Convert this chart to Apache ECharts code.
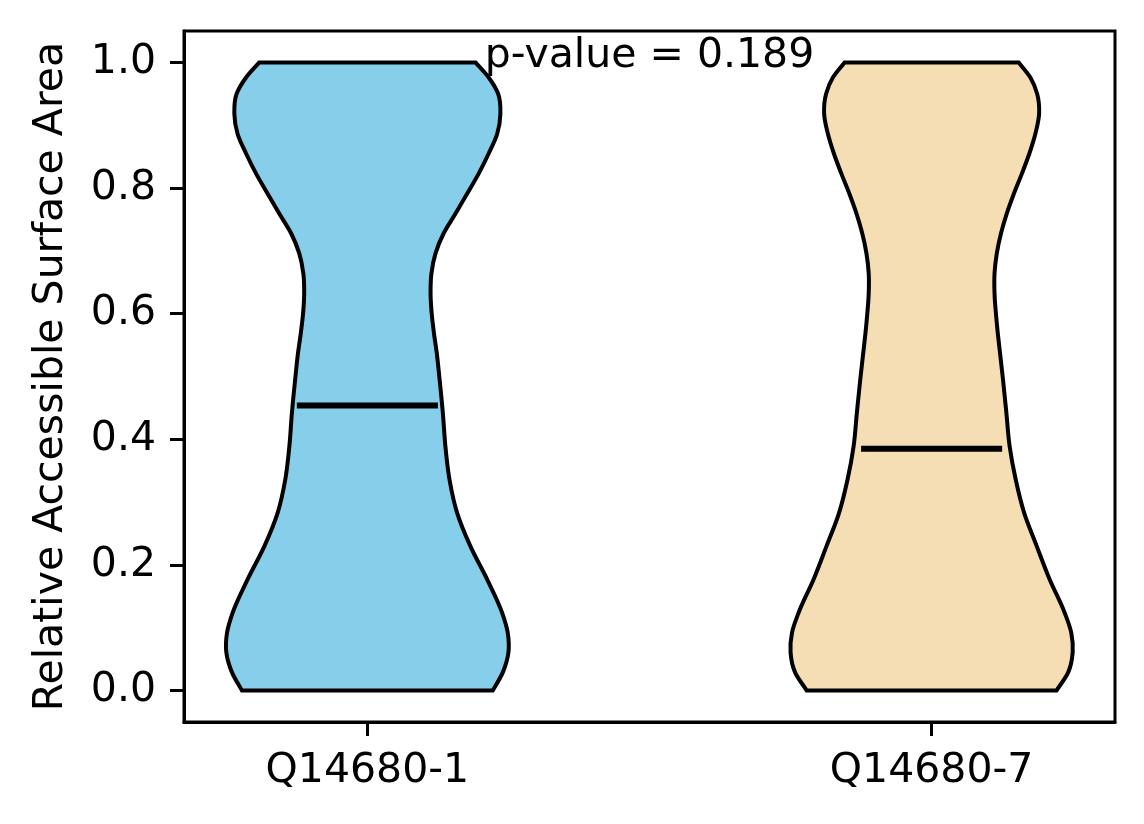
<!DOCTYPE html>
<html>
<head>
<meta charset="utf-8">
<script src="https://cdn.jsdelivr.net/npm/echarts@6/dist/echarts.min.js"></script>
<style>
html,body{margin:0;padding:0;background:#fff;}
#chart{width:1144px;height:824px;}
</style>
</head>
<body>
<div id="chart"></div>
<script>
// ---- data ----
const categories = ['Q14680-1', 'Q14680-7'];
const positions = [1, 2];
const medians = [0.454, 0.385];
const fillColors = ['#87CEEB', '#F5DEB3'];
// violin outline: y levels and relative half-widths (fraction of max half-width)
const yLevels = [0, 0.029, 0.061, 0.092, 0.124, 0.177, 0.230, 0.283, 0.336, 0.389, 0.442, 0.495, 0.537, 0.569, 0.600, 0.632, 0.664, 0.696, 0.728, 0.759, 0.791, 0.823, 0.855, 0.886, 0.918, 0.950, 0.976, 1.0];
const widthsA = [0.889, 0.960, 1.0, 0.995, 0.955, 0.849, 0.730, 0.636, 0.582, 0.553, 0.535, 0.512, 0.492, 0.472, 0.456, 0.448, 0.454, 0.483, 0.541, 0.624, 0.707, 0.789, 0.860, 0.920, 0.943, 0.927, 0.860, 0.766];
const widthsB = [0.885, 0.968, 1.0, 0.990, 0.943, 0.837, 0.745, 0.656, 0.596, 0.553, 0.530, 0.506, 0.485, 0.469, 0.456, 0.446, 0.446, 0.462, 0.492, 0.532, 0.583, 0.640, 0.693, 0.735, 0.762, 0.748, 0.700, 0.617];
const yTicks = [0, 0.2, 0.4, 0.6, 0.8, 1.0];
const pValueText = 'p-value = 0.189';
const pValuePos = [1.5, 1.0];

const violinWidths = [widthsA, widthsB];
const maxHalf = 0.25;
const FONT = 'DejaVu Sans';
const FS = 41;

// smooth side path (Hermite spline of x as a function of y, drawn as cubic beziers)
function sidePath(xs, ys, coord, startWithMove) {
  const n = xs.length;
  const m = new Array(n);
  for (let k = 0; k < n; k++) {
    if (k === 0) m[k] = (xs[1] - xs[0]) / (ys[1] - ys[0]);
    else if (k === n - 1) m[k] = (xs[n - 1] - xs[n - 2]) / (ys[n - 1] - ys[n - 2]);
    else {
      const h0 = ys[k] - ys[k - 1], h1 = ys[k + 1] - ys[k];
      const d0 = (xs[k] - xs[k - 1]) / h0, d1 = (xs[k + 1] - xs[k]) / h1;
      m[k] = (d0 * h1 + d1 * h0) / (h0 + h1);
    }
  }
  const p0 = coord([xs[0], ys[0]]);
  let d = (startWithMove ? 'M' : ' L') + p0[0] + ' ' + p0[1];
  for (let k = 0; k < n - 1; k++) {
    const h = ys[k + 1] - ys[k];
    const c1 = coord([xs[k] + m[k] * h / 3, ys[k] + h / 3]);
    const c2 = coord([xs[k + 1] - m[k + 1] * h / 3, ys[k + 1] - h / 3]);
    const p2 = coord([xs[k + 1], ys[k + 1]]);
    d += ' C' + c1[0] + ' ' + c1[1] + ' ' + c2[0] + ' ' + c2[1] + ' ' + p2[0] + ' ' + p2[1];
  }
  return d;
}

function renderViolin(params, api) {
  const i = params.dataIndex;
  const pos = api.value(0);
  const med = api.value(1);
  const w = violinWidths[i];
  const coord = p => api.coord(p);
  const xr = w.map(v => pos + v * maxHalf);
  const xl = w.map(v => pos - v * maxHalf).reverse();
  const yr = yLevels.slice();
  const yl = yLevels.slice().reverse();
  let d = sidePath(xr, yr, coord, true);
  d += sidePath(xl, yl, coord, false);
  d += ' Z';
  const m1 = api.coord([pos - maxHalf / 2, med]);
  const m2 = api.coord([pos + maxHalf / 2, med]);
  return {
    type: 'group',
    children: [
      { type: 'path', shape: { pathData: d }, style: { fill: fillColors[i], stroke: '#000', lineWidth: 4, lineJoin: 'miter' } },
      { type: 'line', shape: { x1: m1[0], y1: m1[1], x2: m2[0], y2: m2[1] }, style: { stroke: '#000', lineWidth: 6 } }
    ]
  };
}

function renderText(params, api) {
  const p = api.coord([api.value(0), api.value(1)]);
  return {
    type: 'text',
    x: p[0], y: p[1] + 14,
    style: { text: pValueText, font: FS + 'px "' + FONT + '"', fill: '#000', align: 'center', verticalAlign: 'bottom' }
  };
}

const chart = echarts.init(document.getElementById('chart'), null, { renderer: 'canvas' });
chart.setOption({
  animation: false,
  backgroundColor: '#fff',
  grid: { left: 184, right: 29, top: 31, bottom: 102, show: true, borderColor: '#000', borderWidth: 3, backgroundColor: 'transparent' },
  xAxis: {
    type: 'value', min: 0.675, max: 2.325,
    splitLine: { show: false },
    axisLine: { show: true, onZero: false, lineStyle: { color: '#000', width: 3 } },
    axisTick: { show: true, length: 14, lineStyle: { color: '#000', width: 3 }, customValues: positions },
    axisLabel: { color: '#000', fontFamily: FONT, fontSize: FS, margin: 29, customValues: positions,
      formatter: v => categories[positions.indexOf(Math.round(v))] || '' }
  },
  yAxis: {
    type: 'value', min: -0.05, max: 1.05,
    name: 'Relative Accessible Surface Area', nameLocation: 'middle', nameGap: 112,
    nameTextStyle: { color: '#000', fontFamily: FONT, fontSize: FS },
    splitLine: { show: false },
    axisLine: { show: true, onZero: false, lineStyle: { color: '#000', width: 3 } },
    axisTick: { show: true, length: 14, lineStyle: { color: '#000', width: 3 }, customValues: yTicks },
    axisLabel: { color: '#000', fontFamily: FONT, fontSize: FS, margin: 28, customValues: yTicks,
      formatter: v => v.toFixed(1) }
  },
  series: [
    { type: 'custom', renderItem: renderViolin, data: positions.map((p, i) => [p, medians[i]]), clip: false, z: 2 },
    { type: 'custom', renderItem: renderText, data: [pValuePos], clip: false, z: 3 }
  ]
});
</script>
</body>
</html>
